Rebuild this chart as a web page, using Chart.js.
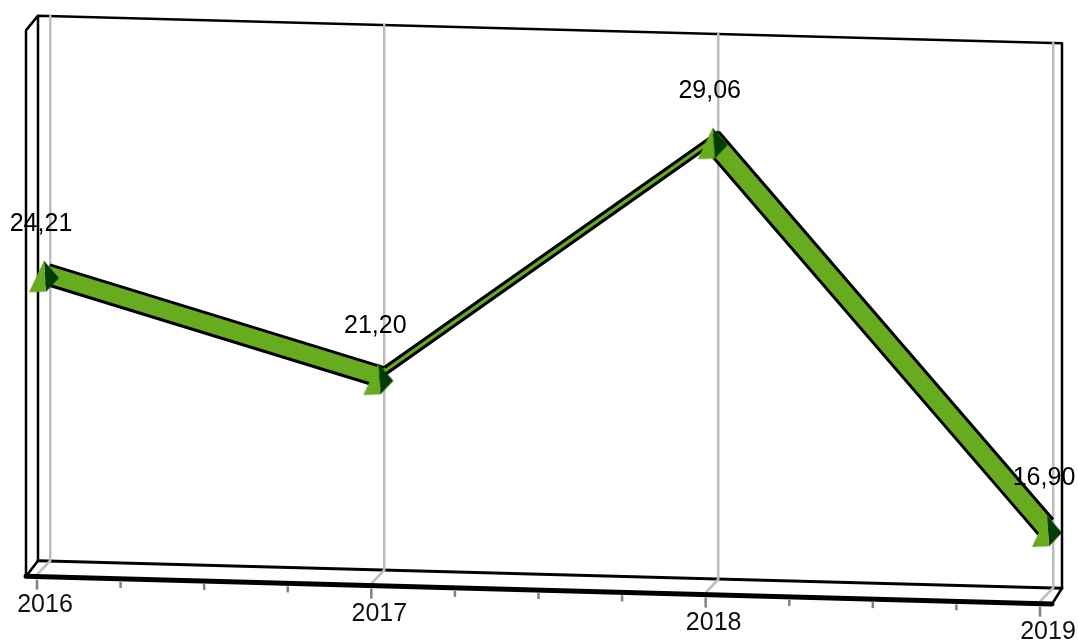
<!DOCTYPE html>
<html><head><meta charset="utf-8">
<style>html,body{margin:0;padding:0;background:#fff}#wrap{width:1078px;height:642px}canvas{display:block}</style>
<script src="https://cdn.jsdelivr.net/npm/chart.js@4"></script></head>
<body><div id="wrap"><canvas id="c" width="1078" height="642"></canvas></div>
<script>
const categories = ['2016','2017','2018','2019'];
const values = [24.21,21.20,29.06,16.90];
const valueLabels = ['24,21','21,20','29,06','16,90'];
const yMin = 14.7, yMax = 32.2;

const SKEW = 27/1003, DEPTH = {x:-13,y:17};
const GREEN='#66AC1E', DARK='#033D03', GREY='#BDBDBD', TICK='#808080';
const FONT='25px "Liberation Sans", Arial, sans-serif';

function pyramid(){
  const c=document.createElement('canvas'); c.width=60; c.height=70;
  const g=c.getContext('2d'); g.translate(30,35);
  const poly=(p,col)=>{g.fillStyle=col;g.beginPath();p.forEach((q,i)=>i?g.lineTo(q[0],q[1]):g.moveTo(q[0],q[1]));g.closePath();g.fill();};
  poly([[-6,-4],[-4,27],[9,13]],DARK);
  poly([[-6,-4],[-21,28],[-4,27]],GREEN);
  return c;
}
const yAt=(x,y)=>y+SKEW*(x-50);

const scene={
  id:'scene',
  beforeDraw(ch){
    const ctx=ch.ctx, a=ch.chartArea;
    ctx.save();
    ctx.transform(1,SKEW,0,1,-0,-SKEW*50);
    const L=38,R=1062,T=a.top,B=a.bottom,FX=26,FR=1052,FB=B+16;
    ctx.lineCap='round';ctx.lineJoin='round';ctx.strokeStyle='#000';ctx.lineWidth=2.5;
    ctx.beginPath();
    ctx.moveTo(FX,T+15);ctx.lineTo(L,T);ctx.lineTo(R,T);ctx.lineTo(R,B);
    ctx.moveTo(L,T);ctx.lineTo(L,B);
    ctx.moveTo(FX,T+15);ctx.lineTo(FX,FB);
    ctx.moveTo(R,B);ctx.lineTo(FR,FB);
    ctx.moveTo(L,B);ctx.lineTo(FX,FB);
    ctx.stroke();
    ctx.lineWidth=3;ctx.beginPath();ctx.moveTo(L,B);ctx.lineTo(R,B);ctx.stroke();
  },
  beforeDatasetsDraw(ch){
    const ctx=ch.ctx,a=ch.chartArea,xs=ch.scales.x,B=a.bottom,FB=B+16;
    ctx.lineCap='butt';
    ctx.strokeStyle=GREY;ctx.lineWidth=2.5;
    categories.forEach((c,i)=>{const x=xs.getPixelForValue(i);ctx.beginPath();ctx.moveTo(x,B);ctx.lineTo(x-13,FB-2);ctx.stroke();});
    ctx.strokeStyle='#000';ctx.lineWidth=5;ctx.lineCap='round';
    ctx.beginPath();ctx.moveTo(26,FB);ctx.lineTo(1052,FB);ctx.stroke();
    ctx.lineCap='butt';ctx.strokeStyle=TICK;
    categories.forEach((c,i)=>{
      const x=xs.getPixelForValue(i)-13;
      ctx.lineWidth=2.5;ctx.beginPath();ctx.moveTo(x,FB+3);ctx.lineTo(x,FB+13);ctx.stroke();
      if(i<categories.length-1){
        const nx=xs.getPixelForValue(i+1)-13;
        for(let k=1;k<4;k++){const mx=x+(nx-x)*k/4;ctx.beginPath();ctx.moveTo(mx,FB+3);ctx.lineTo(mx,FB+9);ctx.stroke();}
      }
    });
    const pts=ch.getDatasetMeta(0).data;
    for(let i=0;i<pts.length-1;i++){
      const p=pts[i],q=pts[i+1];
      ctx.fillStyle=GREEN;
      ctx.beginPath();ctx.moveTo(p.x,p.y);ctx.lineTo(q.x,q.y);ctx.lineTo(q.x+DEPTH.x,q.y+DEPTH.y);ctx.lineTo(p.x+DEPTH.x,p.y+DEPTH.y);ctx.closePath();ctx.fill();
      ctx.strokeStyle='#000';ctx.lineWidth=3;ctx.lineCap='butt';
      ctx.beginPath();ctx.moveTo(p.x,p.y);ctx.lineTo(q.x,q.y);
      ctx.moveTo(p.x+DEPTH.x,p.y+DEPTH.y);ctx.lineTo(q.x+DEPTH.x,q.y+DEPTH.y);ctx.stroke();
    }
  },
  afterDatasetsDraw(ch){
    const ctx=ch.ctx,a=ch.chartArea,xs=ch.scales.x;
    ctx.restore();
    ctx.save();
    ctx.font=FONT;ctx.fillStyle='#000';ctx.textAlign='center';ctx.textBaseline='middle';
    ch.getDatasetMeta(0).data.forEach((p,i)=>{
      ctx.fillText(valueLabels[i],p.x-9,yAt(p.x,p.y)-41);
    });
    ctx.fillStyle='#111';
    categories.forEach((c,i)=>{
      const x=xs.getPixelForValue(i);
      ctx.fillText(c,x-5,yAt(x,a.bottom)+44);
    });
    ctx.restore();
  }
};

new Chart(document.getElementById('c'),{
  type:'line',
  data:{labels:categories,datasets:[{
    data:values,showLine:false,clip:false,
    pointStyle:pyramid(),pointRadius:30,pointHoverRadius:30
  }]},
  plugins:[scene],
  options:{
    responsive:false,animation:false,events:[],
    layout:{autoPadding:false,padding:{left:50,right:25,top:16,bottom:81}},
    plugins:{legend:{display:false},tooltip:{enabled:false},title:{display:false}},
    scales:{
      x:{type:'category',offset:false,display:true,
        grid:{display:true,color:GREY,lineWidth:2.5,drawTicks:false,offset:false},
        border:{display:false},ticks:{display:false}},
      y:{type:'linear',display:false,min:yMin,max:yMax}
    }
  }
});
</script></body></html>
